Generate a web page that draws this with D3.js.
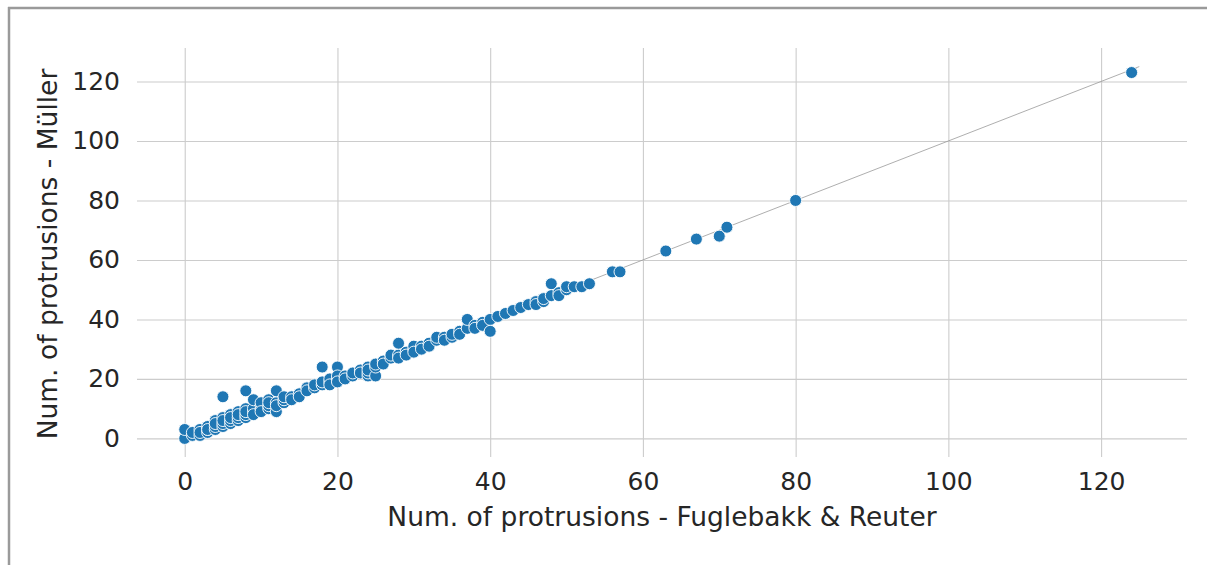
<!DOCTYPE html>
<html>
<head>
<meta charset="utf-8">
<script src="https://cdn.jsdelivr.net/npm/d3@7"></script>
<style>
  body { margin: 0; background: #fff; }
  text { font-family: "DejaVu Sans", sans-serif; fill: #262626; }
</style>
</head>
<body>
<svg id="chart"></svg>
<script>
// counts per protein: Fuglebakk & Reuter (x) vs Müller (y)
let fugleValues = [0, 0, 1, 1, 2, 2, 2, 3, 3, 3, 3, 4, 4, 4, 4, 5, 5, 5, 5, 5, 6, 6, 6, 6, 7, 7, 7, 7, 8, 8, 8, 8, 8, 9, 9, 9, 9, 10, 10, 10, 10, 11, 11, 11, 11, 12, 12, 12, 12, 13, 13, 13, 14, 14, 15, 15, 16, 16, 17, 17, 18, 18, 18, 19, 19, 19, 20, 20, 20, 20, 21, 21, 22, 22, 23, 23, 24, 24, 24, 24, 25, 25, 25, 26, 26, 27, 27, 28, 28, 28, 29, 29, 30, 30, 30, 31, 31, 32, 32, 33, 33, 34, 34, 35, 35, 36, 36, 37, 37, 38, 38, 39, 39, 40, 40, 41, 42, 43, 44, 45, 46, 46, 47, 47, 48, 48, 49, 49, 50, 50, 51, 52, 53, 56, 57, 63, 67, 70, 71, 80, 124]
let mullerValues = [0, 3, 1, 2, 1, 3, 2, 2, 3, 4, 3, 3, 4, 6, 5, 4, 5, 7, 6, 14, 5, 6, 8, 7, 6, 7, 9, 8, 7, 8, 10, 9, 16, 9, 10, 13, 8, 10, 11, 12, 9, 10, 11, 13, 12, 9, 12, 16, 11, 12, 13, 14, 14, 13, 15, 14, 17, 16, 17, 18, 18, 24, 19, 19, 20, 18, 20, 24, 21, 19, 21, 20, 21, 22, 23, 22, 24, 21, 22, 23, 21, 24, 25, 26, 25, 27, 28, 28, 32, 27, 29, 28, 30, 31, 29, 31, 30, 32, 31, 33, 34, 34, 33, 34, 35, 36, 35, 37, 40, 38, 37, 39, 38, 40, 36, 41, 42, 43, 44, 45, 46, 45, 46, 47, 52, 48, 49, 48, 50, 51, 51, 51, 52, 56, 56, 63, 67, 68, 71, 80, 123]
let xTicks = [0, 20, 40, 60, 80, 100, 120]
let yTicks = [0, 20, 40, 60, 80, 100, 120]
let lineExtent = [0, 125]

let points = fugleValues.map((v, i) => [v, mullerValues[i]])

let width = 1207
let height = 565

let svg = d3.select("#chart")
    .attr("width", width)
    .attr("height", height)

// frame of the screenshot
svg.append("line")
    .attr("x1", 9).attr("x2", 9).attr("y1", 7).attr("y2", height)
    .attr("stroke", "#9a9a9a").attr("stroke-width", 2.5)
svg.append("line")
    .attr("x1", 8).attr("x2", width).attr("y1", 8).attr("y2", 8)
    .attr("stroke", "#9a9a9a").attr("stroke-width", 2.5)

let xScale = d3.scaleLinear()
    .domain([-6.25, 131.25])
    .range([137, 1187])

let yScale = d3.scaleLinear()
    .domain([-6.25, 131.25])
    .range([457, 48])

// grid
let xAxis = d3.axisBottom(xScale)
    .tickValues(xTicks)
    .tickSize(-(457 - 48))
    .tickPadding(15)

let yAxis = d3.axisLeft(yScale)
    .tickValues(yTicks)
    .tickSize(-(1187 - 137))
    .tickPadding(17)

let gx = svg.append("g")
    .attr("transform", "translate(0," + 457 + ")")
    .call(xAxis)
gx.select(".domain").remove()
gx.selectAll("line").attr("stroke", "#cccccc").attr("stroke-width", 1.1)
gx.selectAll("text").attr("font-size", 25).attr("fill", "#262626")
    .attr("font-family", "DejaVu Sans")

let gy = svg.append("g")
    .attr("transform", "translate(" + 137 + ",0)")
    .call(yAxis)
gy.select(".domain").remove()
gy.selectAll("line").attr("stroke", "#cccccc").attr("stroke-width", 1.1)
gy.selectAll("text").attr("font-size", 25).attr("fill", "#262626")
    .attr("font-family", "DejaVu Sans")

// y = x reference line
svg.append("line")
    .attr("x1", xScale(lineExtent[0]))
    .attr("y1", yScale(lineExtent[0]))
    .attr("x2", xScale(lineExtent[1]))
    .attr("y2", yScale(lineExtent[1]))
    .attr("stroke", "#999999")
    .attr("stroke-width", 0.8)

svg.selectAll("circle")
    .data(points)
    .enter()
    .append("circle")
    .attr("cx", (d) => xScale(d[0]))
    .attr("cy", (d) => yScale(d[1]))
    .attr("r", 6)
    .attr("fill", "#1f77b4")
    .attr("stroke", "#ffffff")
    .attr("stroke-width", 0.9)

svg.append("text")
    .attr("x", 662)
    .attr("y", 526)
    .attr("text-anchor", "middle")
    .attr("font-size", 26.5)
    .text("Num. of protrusions - Fuglebakk & Reuter")

svg.append("text")
    .attr("transform", "translate(" + 57 + "," + 254 + ") rotate(-90)")
    .attr("text-anchor", "middle")
    .attr("font-size", 26.5)
    .text("Num. of protrusions - Müller")
</script>
</body>
</html>
